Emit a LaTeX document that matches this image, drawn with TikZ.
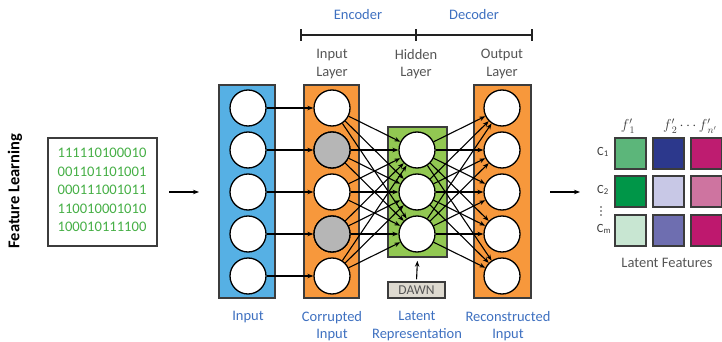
\documentclass[tikz,border=0pt]{standalone}
\usepackage{fontspec}
\setmainfont{Carlito}
\usetikzlibrary{arrows.meta}
\definecolor{inblue}{RGB}{86,176,228}
\definecolor{orng}{RGB}{247,152,60}
\definecolor{grn}{RGB}{146,200,82}
\definecolor{boxline}{RGB}{60,60,60}
\definecolor{lblblue}{RGB}{62,112,192}
\definecolor{lblgray}{RGB}{85,85,85}
\definecolor{bingreen}{RGB}{70,175,70}
\definecolor{dawnfill}{RGB}{222,218,208}
\definecolor{corr}{RGB}{182,182,182}
\definecolor{cA}{RGB}{92,182,122}
\definecolor{cB}{RGB}{44,56,140}
\definecolor{cC}{RGB}{190,28,112}
\definecolor{cD}{RGB}{0,150,72}
\definecolor{cE}{RGB}{200,200,230}
\definecolor{cF}{RGB}{206,116,160}
\definecolor{cG}{RGB}{200,230,210}
\definecolor{cH}{RGB}{110,110,176}
\definecolor{cI}{RGB}{190,24,110}
\begin{document}
\begin{tikzpicture}[x=1pt,y=-1pt,
  layerbox/.style={draw=boxline,line width=1.6pt,inner sep=0pt},
  neuron/.style={circle,draw=black,fill=white,line width=1.3pt,minimum size=36pt,inner sep=0pt},
  conn/.style={line width=1.1pt,-{Stealth[length=6pt,width=4.5pt]}},
  lbl/.style={font=\fontsize{14.5}{17.5}\selectfont,align=center,inner sep=0pt},
  featsq/.style={draw=boxline,line width=2pt,minimum size=31pt,inner sep=0pt},
  clbl/.style={font=\fontsize{12.5}{14}\selectfont,inner sep=0pt,text=lblgray!70!black}]
\useasboundingbox (0,0) rectangle (722,342);

% Feature Learning title
\node[rotate=90,font=\fontsize{16.5}{19}\selectfont\bfseries,inner sep=0pt] (title) at (15,191) {Feature Learning};

% binary box
\node[draw=boxline,line width=1.8pt,minimum width=109pt,minimum height=108pt,inner sep=0pt] (bin) at (102.5,192) {};
\node[align=left,inner sep=0pt,text=bingreen,font=\fontsize{14.6}{18.5}\selectfont] (bintxt) at (102,190) {111110100010\\001101101001\\000111001011\\110010001010\\100010111100};
\coordinate (la1) at (169,192);
\coordinate (la2) at (199,192);
\draw[line width=1.2pt,-{Stealth[length=6pt,width=4.5pt]}] (la1) -- (la2);

% layer boxes
\node[layerbox,fill=inblue,minimum width=56pt,minimum height=213pt] (inbox) at (247,191.5) {};
\node[layerbox,fill=orng,minimum width=55pt,minimum height=213pt] (cobox) at (331.5,191.5) {};
\node[layerbox,fill=grn,minimum width=59pt,minimum height=130pt] (hibox) at (417.5,192) {};
\node[layerbox,fill=orng,minimum width=57pt,minimum height=213pt] (oubox) at (502.5,191.5) {};

% neurons
\foreach \i/\y in {1/108,2/150,3/192,4/234,5/276}{
  \node[neuron] (i\i) at (248,\y) {};
  \node[neuron] (c\i) at (332,\y) {};
  \node[neuron] (o\i) at (502,\y) {};
}
\node[neuron,fill=corr] at (c2) {};
\node[neuron,fill=corr] at (c4) {};
\foreach \j/\y in {1/150,2/192,3/234}{
  \node[neuron] (h\j) at (417,\y) {};
}

% connections
\foreach \i in {1,...,5}{
  \draw[conn] (i\i) -- (c\i);
  \foreach \j in {1,2,3}{
    \draw[conn] (c\i) -- (h\j);
    \draw[conn] (h\j) -- (o\i);
  }
}

% DAWN
\node[draw=boxline,line width=1.5pt,fill=dawnfill,minimum width=57pt,minimum height=16pt,inner sep=0pt,font=\fontsize{13.5}{15}\selectfont,text=lblgray] (dawn) at (416.5,290) {DAWN};
\draw[line width=1.1pt,-{Stealth[length=6pt,width=4.5pt]},shorten <=2pt,shorten >=3pt] (dawn.north) -- (hibox.south);

% encoder/decoder bracket
\coordinate (b1) at (301,35);
\coordinate (b2) at (416,35);
\coordinate (b3) at (532,35);
\draw[line width=1.3pt,lblgray!40!black] (b1) -- (b3);
\foreach \b in {b1,b2,b3}{
  \draw[line width=2pt,lblgray!40!black] ([yshift=-6pt]\b) -- ([yshift=6pt]\b);
}
\node[lbl,text=lblblue] (enc) at (358,15) {Encoder};
\node[lbl,text=lblblue] (dec) at (474,15) {Decoder};

% layer labels
\node[lbl,text=lblgray] (l1) at (332,64) {Input\\Layer};
\node[lbl,text=lblgray] (l2) at (416,64) {Hidden\\Layer};
\node[lbl,text=lblgray] (l3) at (502,64) {Output\\Layer};

% bottom labels
\node[lbl,text=lblblue] (b_in) at (248,317) {Input};
\node[lbl,text=lblblue] (b_co) at (332,326) {Corrupted\\Input};
\node[lbl,text=lblblue] (b_la) at (417,326) {Latent\\Representation};
\node[lbl,text=lblblue] (b_re) at (508,326) {Reconstructed\\Input};

% right arrow
\coordinate (ra1) at (550,192);
\coordinate (ra2) at (580,192);
\draw[line width=1.2pt,-{Stealth[length=6pt,width=4.5pt]}] (ra1) -- (ra2);

% latent feature matrix
\node[featsq,fill=cA] (m11) at (630,153.5) {};
\node[featsq,fill=cB] (m12) at (668,153.5) {};
\node[featsq,fill=cC] (m13) at (706,153.5) {};
\node[featsq,fill=cD] (m21) at (630,191.5) {};
\node[featsq,fill=cE] (m22) at (668,191.5) {};
\node[featsq,fill=cF] (m23) at (706,191.5) {};
\node[featsq,fill=cG] (m31) at (630,230) {};
\node[featsq,fill=cH] (m32) at (668,230) {};
\node[featsq,fill=cI] (m33) at (706,230) {};

\node[clbl] (c1l) at (603,152) {C\textsubscript{1}};
\node[clbl] (c2l) at (603,190) {C\textsubscript{2}};
\foreach \d in {207,211,215}{
  \fill[lblgray!70!black] (601,\d) circle (0.8pt);
}
\node[clbl] (cml) at (604,229) {C\textsubscript{m}};

\node[inner sep=0pt,text=lblgray!70!black,font=\fontsize{14}{16}\selectfont] (f1) at (628,126) {$f'_{\,1}$};
\node[inner sep=0pt,text=lblgray!70!black,font=\fontsize{14}{16}\selectfont] (f2) at (690,126) {$f'_{\,2}\cdots f'_{\,n'}$};

\node[lbl,text=lblgray] (lf) at (667,263) {Latent Features};
\end{tikzpicture}
\end{document}
